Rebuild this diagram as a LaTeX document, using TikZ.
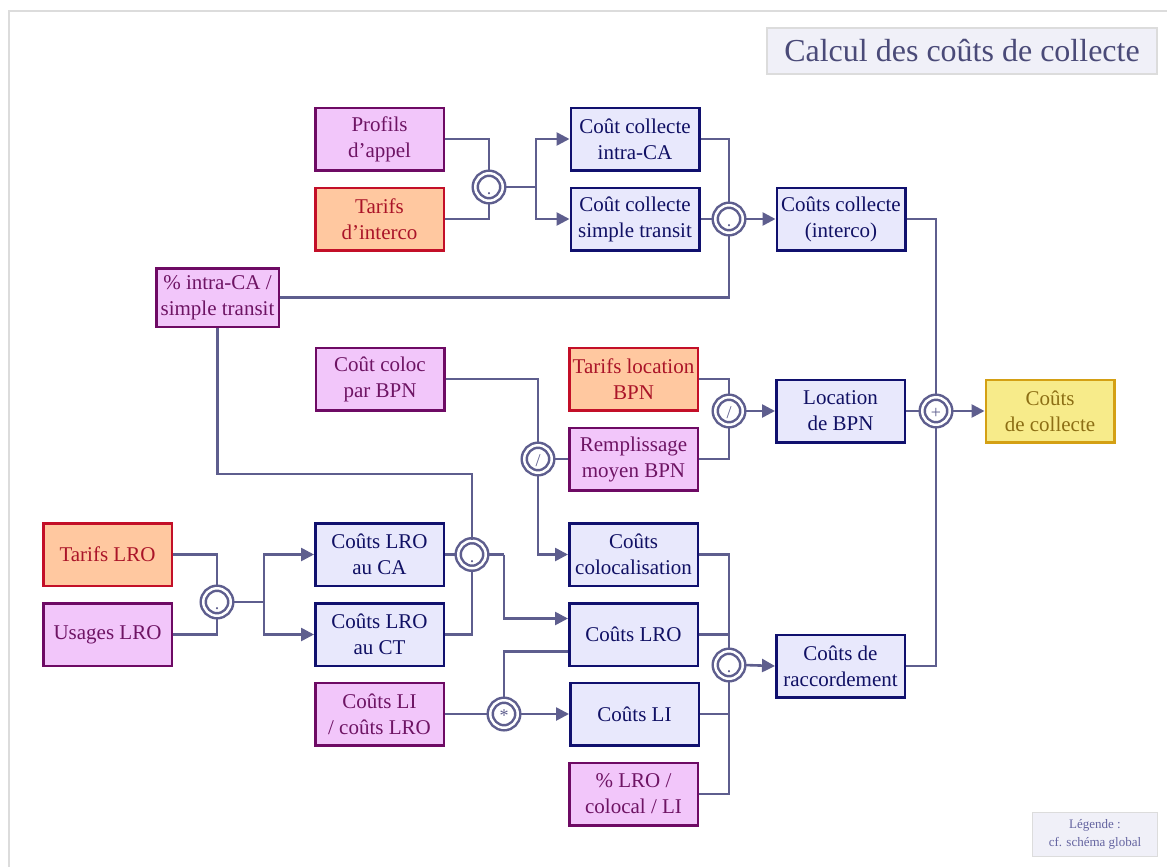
\documentclass[tikz,border=0pt]{standalone}
\usepackage{fontspec}
\setmainfont{Liberation Serif}
\usetikzlibrary{arrows.meta}

\definecolor{wire}{RGB}{94,94,142}
\definecolor{bluefill}{RGB}{232,232,252}
\definecolor{blueline}{RGB}{16,16,110}
\definecolor{bluetext}{RGB}{16,16,100}
\definecolor{pinkfill}{RGB}{242,198,250}
\definecolor{pinkline}{RGB}{110,10,100}
\definecolor{pinktext}{RGB}{110,20,100}
\definecolor{orfill}{RGB}{255,200,160}
\definecolor{orline}{RGB}{195,15,40}
\definecolor{ortext}{RGB}{170,20,40}
\definecolor{yelfill}{RGB}{247,235,138}
\definecolor{yelline}{RGB}{212,160,20}
\definecolor{yeltext}{RGB}{140,110,20}
\definecolor{framegray}{RGB}{220,220,220}
\definecolor{titlefill}{RGB}{240,240,248}
\definecolor{titletext}{RGB}{74,74,120}
\definecolor{legendtext}{RGB}{100,100,160}

\begin{document}
\begin{tikzpicture}[x=1pt,y=-1pt,
  box/.style={rectangle, line width=2.5pt, minimum width=128.5pt, minimum height=62.5pt,
    inner sep=0pt, align=center, font=\fontsize{21}{26}\selectfont},
  calc/.style={box, fill=bluefill, draw=blueline, text=bluetext},
  param/.style={box, fill=pinkfill, draw=pinkline, text=pinktext},
  tarif/.style={box, fill=orfill, draw=orline, text=ortext},
  result/.style={box, fill=yelfill, draw=yelline, text=yeltext},
  op/.style={circle, draw=wire, double=white, double distance=2.5pt, line width=2.5pt,
    minimum size=27.5pt, inner sep=0pt, fill=white, text=wire,
    font=\fontsize{18}{18}\selectfont, text height=15pt, text depth=0pt},
  wirestyle/.style={draw=wire, line width=2.6pt},
  arr/.style={wirestyle, -{Triangle[length=13pt,width=13pt]}},
]
\useasboundingbox (0,0) rectangle (1167,867);

% outer frame (top and left edges)
\draw[framegray, line width=2pt] (9,867) -- (9,11) -- (1167,11);

% title and legend
\node[rectangle, fill=titlefill, draw=framegray, line width=2pt,
  minimum width=390pt, minimum height=46pt, inner sep=0pt,
  text=titletext, font=\fontsize{32}{36}\selectfont] (title) at (962,51) {Calcul des coûts de collecte};
\node[rectangle, fill=titlefill, draw=framegray, line width=1.5pt,
  minimum width=125pt, minimum height=44pt, inner sep=0pt, align=center,
  text=legendtext, font=\fontsize{13}{18}\selectfont] (legend) at (1095,834.5) {Légende :\\cf. schéma global};

% interconnection collection block
\node[param] (prof) at (379.5,139) {Profils\\d’appel};
\node[tarif] (tint) at (379.5,219) {Tarifs\\d’interco};
\node[op] (c1) at (489,187) {.};
\node[calc] (cintra) at (635,139) {Coût collecte\\intra-CA};
\node[calc] (cst) at (635,219) {Coût collecte\\simple transit};
\node[op] (c2) at (729,219) {.};
\node[calc] (cinter) at (841,219) {Coûts collecte\\(interco)};
\node[param, minimum width=122.5pt, minimum height=58.5pt] (pct) at (217.5,297.5) {\% intra-CA /\\simple transit};

% BPN rental block
\node[param] (cloc) at (380,379) {Coût coloc\\par BPN};
\node[op] (c3) at (538,459) {/};
\node[tarif] (tloc) at (633.5,379) {Tarifs location\\BPN};
\node[param] (rempl) at (633.5,459) {Remplissage\\moyen BPN};
\node[op] (c4) at (729,411) {/};
\node[calc] (lbpn) at (840.5,411) {Location\\de BPN};
\node[op] (c5) at (936,411) {+};
\node[result] (cdc) at (1050,411) {Coûts\\de collecte};

% connection block
\node[tarif] (tlro) at (107.5,554.5) {Tarifs LRO};
\node[param] (ulro) at (107.5,634.5) {Usages LRO};
\node[op] (c6) at (217,602) {.};
\node[calc] (lca) at (379.5,554.5) {Coûts LRO\\au CA};
\node[calc] (lct) at (379.5,634.5) {Coûts LRO\\au CT};
\node[op] (c7) at (472,554.5) {.};
\node[calc] (coloc) at (633.5,554.5) {Coûts\\colocalisation};
\node[calc] (clro) at (633.5,634.5) {Coûts LRO};
\node[param] (lilro) at (379.5,714) {Coûts LI\\/ coûts LRO};
\node[op] (c8) at (504,714) {*};
\node[calc] (cli) at (634.5,714) {Coûts LI};
\node[param] (plro) at (633.5,794) {\% LRO /\\colocal / LI};
\node[op] (c9) at (729,665) {.};
\node[calc] (racc) at (840.5,666) {Coûts de\\raccordement};

% junction points
\coordinate (j1) at (536,187);
\coordinate (j2) at (472,474);
\coordinate (j3) at (264,602);
\coordinate (j4) at (504,554.5);

% connectors
\draw[wirestyle] (prof.east) -| (c1.north);
\draw[wirestyle] (tint.east) -| (c1.south);
\draw[wirestyle] (c1.east) -- (j1);
\draw[arr] (j1) |- (cintra.west);
\draw[arr] (j1) |- (cst.west);
\draw[wirestyle] (cintra.east) -| (c2.north);
\draw[wirestyle] (cst.east) -- (c2.west);
\draw[wirestyle] (c2.south) |- (pct.east);
\draw[arr] (c2.east) -- (cinter.west);
\draw[wirestyle] (cinter.east) -| (c5.north);
\draw[wirestyle] (c5.south) |- (racc.east);
\draw[wirestyle] (lbpn.east) -- (c5.west);
\draw[arr] (c5.east) -- (cdc.west);

\draw[wirestyle] (tloc.east) -| (c4.north);
\draw[wirestyle] (rempl.east) -| (c4.south);
\draw[arr] (c4.east) -- (lbpn.west);
\draw[wirestyle] (cloc.east) -| (c3.north);
\draw[wirestyle] (rempl.west) -- (c3.east);
\draw[arr] (c3.south) |- (coloc.west);

\draw[wirestyle] (pct.south) |- (j2) -- (c7.north);
\draw[wirestyle] (tlro.east) -| (c6.north);
\draw[wirestyle] (ulro.east) -| (c6.south);
\draw[wirestyle] (c6.east) -- (j3);
\draw[arr] (j3) |- (lca.west);
\draw[arr] (j3) |- (lct.west);
\draw[wirestyle] (lca.east) -- (c7.west);
\draw[wirestyle] (lct.east) -| (c7.south);
\draw[wirestyle] (c7.east) -- (j4);
\draw[arr] (j4) |- ([yshift=16pt]clro.west);
\draw[wirestyle] ([yshift=-17pt]clro.west) -| (c8.north);
\draw[wirestyle] (lilro.east) -- (c8.west);
\draw[arr] (c8.east) -- (cli.west);
\draw[wirestyle] (coloc.east) -| (c9.north);
\draw[wirestyle] (clro.east) -- (clro.east -| c9.north);
\draw[wirestyle] (cli.east) -- (cli.east -| c9.north);
\draw[wirestyle] (plro.east) -| (c9.south);
\draw[arr] (c9.east) -- (racc.west);
\end{tikzpicture}
\end{document}
